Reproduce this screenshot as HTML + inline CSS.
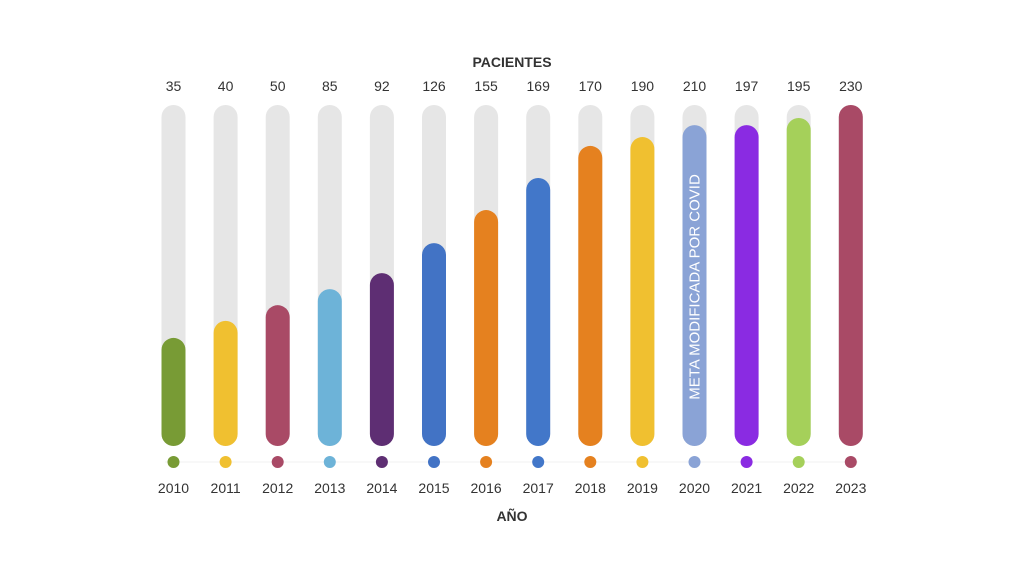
<!DOCTYPE html>
<html><head><meta charset="utf-8"><style>
body{margin:0;background:#fff;}
svg text{font-family:"Liberation Sans",sans-serif;}
</style></head><body>
<svg id="c" width="1024" height="576" viewBox="0 0 1024 576">
<text x="512" y="67" text-anchor="middle" font-size="14" font-weight="bold" fill="#333">PACIENTES</text>
<text x="512" y="521" text-anchor="middle" font-size="14" font-weight="bold" fill="#333">AÑO</text>
<line x1="165" y1="462" x2="858" y2="462" stroke="#f2f2f2" stroke-width="1"/>
</svg>
<script>
const years=["2010","2011","2012","2013","2014","2015","2016","2017","2018","2019","2020","2021","2022","2023"];
const patients=[35,40,50,85,92,126,155,169,170,190,210,197,195,230];
const progressPct=[31.7,36.7,41.3,46,50.7,59.5,69.2,78.6,88,90.6,94.1,94.1,96.2,100];
const colors=["#789b35","#f0c030","#a94a66","#6db3d8","#5e2e73","#4273c5","#e5811f","#4277c9","#e5811f","#f0c030","#8aa3d6","#8a2be2","#a5d05a","#a94a66"];
const svgEl=document.getElementById('c');
const NS='http://www.w3.org/2000/svg';
const x0=173.5,step=52.1,barW=24,barTop=105,barBot=446;
const xPos=i=>x0+i*step;
const yPos=p=>barBot-(barBot-barTop)*p/100;
function mk(t,a){const e=document.createElementNS(NS,t);for(const k in a)e.setAttribute(k,a[k]);svgEl.appendChild(e);return e;}
years.forEach((yr,i)=>{
  const cx=xPos(i);
  const tr=mk('rect',{x:cx-barW/2,y:barTop,width:barW,height:barBot-barTop,rx:12,fill:'#e6e6e6'});
  
  
  const yt=yPos(progressPct[i]);
  const b=mk('rect',{x:cx-barW/2,y:yt,width:barW,height:barBot-yt,rx:12,fill:colors[i]});
  
  
  const v=mk('text',{x:cx,y:91,'text-anchor':'middle','font-size':14,fill:'#333'});
  v.textContent=patients[i];
  
  
  const d=mk('circle',{cx:cx,cy:462,r:6,fill:colors[i]});
  
  
  const l=mk('text',{x:cx,y:493,'text-anchor':'middle','font-size':14,fill:'#333'});
  l.textContent=yr;
  
  
});
const n=mk('text',{x:0,y:0,'text-anchor':'middle','font-size':15,fill:'#fff',transform:'translate('+(xPos(10)+5)+',287) rotate(-90)'});
n.textContent='META MODIFICADA POR COVID';


</script>
</body></html>
